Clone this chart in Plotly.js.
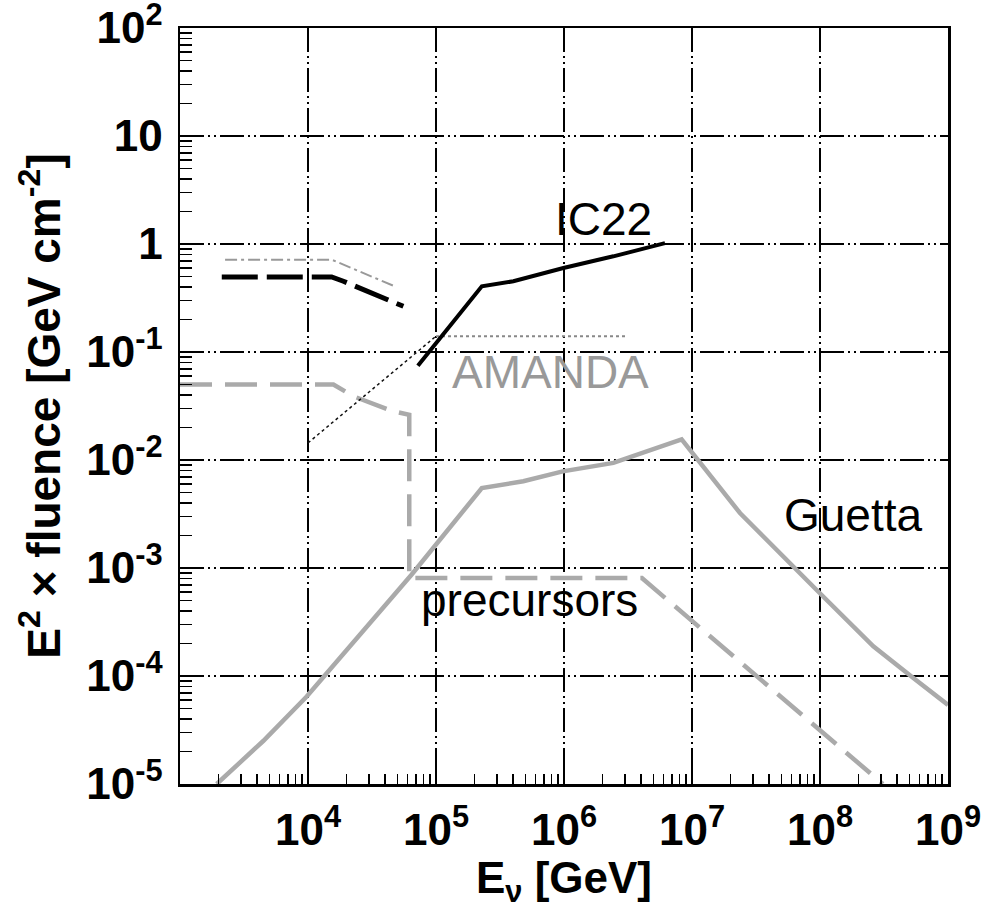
<!DOCTYPE html>
<html>
<head>
<meta charset="utf-8">
<script src="https://cdn.plot.ly/plotly-3.0.1.min.js"></script>
<style>
  html, body { margin: 0; padding: 0; background: #fff; }
  #chart { width: 985px; height: 909px; }
</style>
</head>
<body>
<div id="chart"></div>
<script>
// Neutrino energy (GeV) and E^2 x fluence (GeV cm^-2) for each curve

// Guetta model prediction (grey solid)
const guettaE = [1936, 4467, 9772, 2.51e4, 6.46e4, 2.28e5, 4.81e5, 9.77e5, 2.43e6, 8.3e6, 2.37e7, 9.89e7, 2.61e8, 5.36e8, 1e9];
const guettaF = [1.0e-5, 2.5e-5, 6.46e-5, 2.34e-4, 8.7e-4, 5.5e-3, 6.35e-3, 7.85e-3, 9.4e-3, 1.55e-2, 3.23e-3, 5.9e-4, 1.88e-4, 9.6e-5, 5.4e-5];

// Precursor model (grey dashed)
const precE = [1000, 1.58e4, 2.26e4, 4.63e4, 6.18e4, 6.18e4, 4.06e6, 3.1e8];
const precF = [0.05, 0.05, 0.0389, 0.02825, 0.02624, 8.07e-4, 8.07e-4, 1.0e-5];

// Black dashed limit
const blackDashE = [2120, 1.53e4, 1.89e4, 5.56e4];
const blackDashF = [0.495, 0.495, 0.452, 0.265];

// Grey dash-dot limit
const greyDotDashE = [2250, 1.53e4, 4.64e4];
const greyDotDashF = [0.716, 0.716, 0.411];

// Dotted diagonal
const diagE = [1.0e4, 1.0e5];
const diagF = [0.0144, 0.14];

// AMANDA limit (grey dotted)
const amandaE = [1.0e5, 3.1e6];
const amandaF = [0.14, 0.14];

// IC22 limit (black solid)
const ic22E = [7.22e4, 2.28e5, 4.02e5, 9.89e5, 2.43e6, 6.15e6];
const ic22F = [0.0746, 0.406, 0.452, 0.6, 0.769, 1.02];

// Axis ticks
const xTickVals = [1e4, 1e5, 1e6, 1e7, 1e8, 1e9];
const xTickText = ['10<sup>4</sup>', '10<sup>5</sup>', '10<sup>6</sup>', '10<sup>7</sup>', '10<sup>8</sup>', '10<sup>9</sup>'];
const yTickVals = [1e-5, 1e-4, 1e-3, 1e-2, 1e-1, 1, 10, 100];
const yTickText = ['10<sup>-5</sup>', '10<sup>-4</sup>', '10<sup>-3</sup>', '10<sup>-2</sup>', '10<sup>-1</sup>', '1', '10', '10<sup>2</sup>'];

const GREY = '#aaaaaa';
const FONT = 'Liberation Sans, Arial, Helvetica, sans-serif';

const traces = [
  { x: guettaE, y: guettaF, mode: 'lines', line: { color: GREY, width: 4.5 } },
  { x: precE, y: precF, mode: 'lines', line: { color: GREY, width: 4.5, dash: '32px,13px' } },
  { x: greyDotDashE, y: greyDotDashF, mode: 'lines', line: { color: '#999999', width: 2, dash: '12px,4px,3px,4px' } },
  { x: blackDashE, y: blackDashF, mode: 'lines', line: { color: '#000000', width: 5, dash: '36px,9px' } },
  { x: diagE, y: diagF, mode: 'lines', line: { color: '#111111', width: 1.5, dash: '3px,3px' } },
  { x: amandaE, y: amandaF, mode: 'lines', line: { color: '#888888', width: 2, dash: '3px,3px' } },
  { x: ic22E, y: ic22F, mode: 'lines', line: { color: '#000000', width: 4 } }
].map(t => Object.assign({ type: 'scatter', showlegend: false, hoverinfo: 'skip' }, t));

const gridDash = '24px,4px,2px,4px,2px,4px';

function axisStyle() {
  return {
    type: 'log',
    tickmode: 'array',
    tickfont: { size: 44, weight: 'bold', family: FONT },
    ticks: 'inside',
    ticklen: 16,
    tickwidth: 2,
    tickcolor: '#000',
    ticklabelstandoff: 6,
    ticklabeloverflow: 'allow',
    showline: true,
    linecolor: '#000',
    linewidth: 2.5,
    mirror: true,
    showgrid: true,
    gridcolor: '#000',
    gridwidth: 1.6,
    griddash: gridDash,
    zeroline: false
  };
}

const layout = {
  width: 985,
  height: 909,
  margin: { l: 180, r: 37, t: 28, b: 125 },
  paper_bgcolor: '#ffffff',
  plot_bgcolor: '#ffffff',
  font: { family: FONT, color: '#000' },
  showlegend: false,
  xaxis: Object.assign(axisStyle(), {
    range: [3, 9],
    tickvals: xTickVals,
    ticktext: xTickText,
    minor: { dtick: 'D1', ticks: 'inside', ticklen: 10, tickwidth: 1.6, tickcolor: '#000', showgrid: false },
    title: { text: 'E<sub>ν</sub> [GeV]', font: { size: 44, weight: 'bold', family: FONT }, standoff: 12 }
  }),
  yaxis: Object.assign(axisStyle(), {
    range: [-5, 2],
    tickvals: yTickVals,
    ticktext: yTickText,
    minor: { dtick: 'D1', ticks: 'inside', ticklen: 12, tickwidth: 1.6, tickcolor: '#000', showgrid: false },
    title: { text: 'E<sup>2</sup> × fluence [GeV cm<sup>-2</sup>]', font: { size: 46, weight: 'bold', family: FONT }, standoff: 12 }
  }),
  annotations: [
    { text: 'IC22', x: 6.305, y: 0.2315, xref: 'x', yref: 'y', showarrow: false, font: { size: 46, color: '#000', family: FONT } },
    { text: 'AMANDA', x: 5.891, y: -1.185, xref: 'x', yref: 'y', showarrow: false, font: { size: 46, color: '#999999', family: FONT } },
    { text: 'Guetta', x: 8.258, y: -2.509, xref: 'x', yref: 'y', showarrow: false, font: { size: 46, color: '#000', family: FONT } },
    { text: 'precursors', x: 5.734, y: -3.294, xref: 'x', yref: 'y', showarrow: false, font: { size: 46, color: '#000', family: FONT } }
  ]
};

Plotly.newPlot('chart', traces, layout, { staticPlot: true, displayModeBar: false });
</script>
</body>
</html>
